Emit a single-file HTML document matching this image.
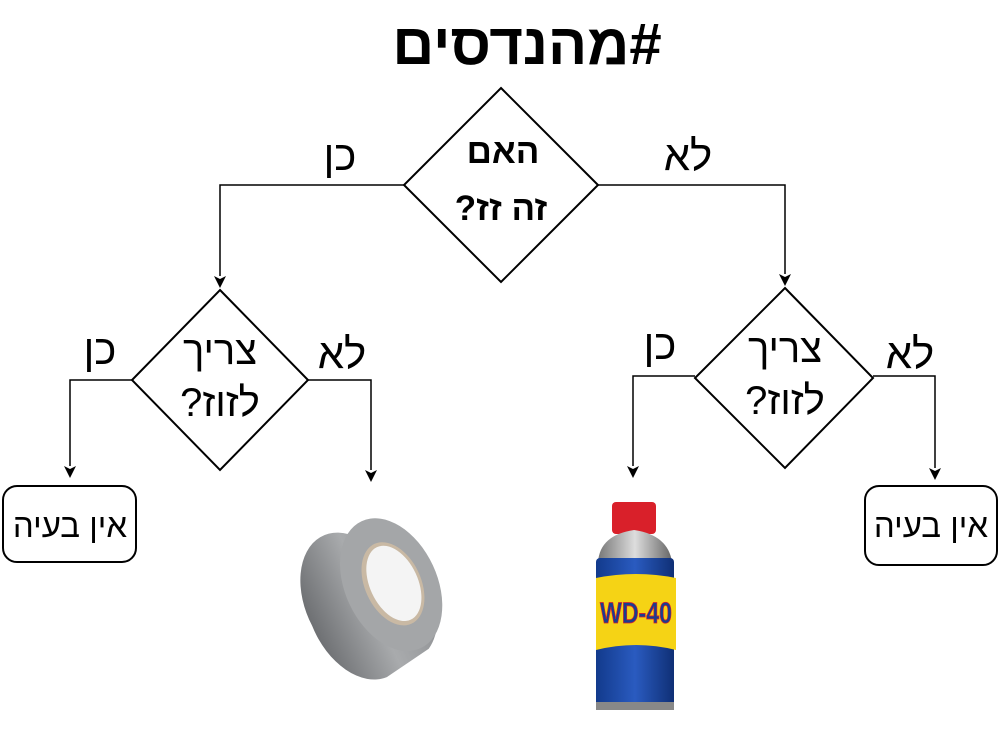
<!DOCTYPE html>
<html><head><meta charset="utf-8"><style>
body{margin:0;background:#fff;width:1000px;height:724px;overflow:hidden;font-family:"Liberation Sans","DejaVu Sans",sans-serif}
</style></head><body>
<svg width="1000" height="724" xmlns="http://www.w3.org/2000/svg" font-family="Liberation Sans, DejaVu Sans, sans-serif">
<defs>
<linearGradient id="tp" x1="0" x2="1"><stop offset="0" stop-color="#6e7073"/><stop offset=".5" stop-color="#a9abad"/><stop offset="1" stop-color="#8b8d90"/></linearGradient>
<linearGradient id="cn" x1="0" x2="1"><stop offset="0" stop-color="#123a8c"/><stop offset=".5" stop-color="#2a5bc0"/><stop offset="1" stop-color="#0f2f75"/></linearGradient>
<linearGradient id="sv" x1="0" x2="1"><stop offset="0" stop-color="#777"/><stop offset=".5" stop-color="#ddd"/><stop offset="1" stop-color="#666"/></linearGradient>
</defs>
<text x="527" y="64" font-size="58" font-weight="bold" text-anchor="middle" direction="rtl">#מהנדסים</text>
<g fill="#fff" stroke="#000" stroke-width="2">
<polygon points="501,88 598,185 501,282 404,185"/>
<polygon points="220,290 308,380 220,470 132,380"/>
<polygon points="785,288 873,378 785,468 695,378"/>
<rect x="3" y="486" width="133" height="76" rx="14"/>
<rect x="865" y="486" width="132" height="79" rx="14"/>
</g>
<g fill="none" stroke="#000" stroke-width="1.5">
<polyline points="404,185 220,185 220,276"/>
<polyline points="598,185 785,185 785,274"/>
<polyline points="132,380 70,380 70,466"/>
<polyline points="308,380 371,380 371,470"/>
<polyline points="695,376 633,376 633,466"/>
<polyline points="873,376 935,376 935,468"/>
</g>
<g fill="#000">
<path d="M214,276 L220,288 L226,276 L220,279Z"/>
<path d="M779,274 L785,286 L791,274 L785,277Z"/>
<path d="M64,466 L70,478 L76,466 L70,469Z"/>
<path d="M365,470 L371,482 L377,470 L371,473Z"/>
<path d="M627,466 L633,478 L639,466 L633,469Z"/>
<path d="M929,468 L935,480 L941,468 L935,471Z"/>
</g>
<g text-anchor="middle" direction="rtl">
<text x="503" y="163" font-size="35" font-weight="bold">האם</text>
<text x="501" y="220" font-size="35" font-weight="bold">זה זז?</text>
<text x="220" y="364" font-size="40">צריך</text>
<text x="220" y="416" font-size="40">לזוז?</text>
<text x="785" y="362" font-size="40">צריך</text>
<text x="785" y="414" font-size="40">לזוז?</text>
<text x="70" y="537" font-size="33">אין בעיה</text>
<text x="931" y="537" font-size="33">אין בעיה</text>
<text x="340" y="170" font-size="42">כן</text>
<text x="688" y="170" font-size="42">לא</text>
<text x="100" y="364" font-size="42">כן</text>
<text x="342" y="368" font-size="42">לא</text>
<text x="660" y="359" font-size="42">כן</text>
<text x="910" y="368" font-size="42">לא</text>
</g>
<!-- duct tape -->
<g transform="rotate(-25 372 598)">
<path d="M306,598 a48,72 0 0 1 96,-10 l30,0 a48,72 0 0 1 -30,80 l-50,8 a48,72 0 0 1 -46,-78Z" fill="url(#tp)"/>
<ellipse cx="395" cy="594" rx="46" ry="70" fill="#a4a6a8"/>
<ellipse cx="397" cy="594" rx="28" ry="44" fill="#c9b9a4"/>
<ellipse cx="398" cy="594" rx="24" ry="40" fill="#f4f4f4"/>
</g>
<!-- WD-40 -->
<rect x="612" y="502" width="44" height="32" rx="4" fill="#d9202a"/>
<path d="M598,562 Q600,535 634,530 Q668,535 672,562Z" fill="url(#sv)"/>
<rect x="596" y="558" width="78" height="150" rx="4" fill="url(#cn)"/>
<path d="M596,578 Q636,570 676,578 L676,650 Q636,640 596,650Z" fill="#f5d315"/>
<text x="636" y="623" font-size="30" font-weight="bold" fill="#1a3d8f" text-anchor="middle" textLength="72" lengthAdjust="spacingAndGlyphs" stroke="#d9202a" stroke-width="0.8">WD-40</text>
<rect x="596" y="702" width="78" height="8" fill="#888"/>
</svg>
</body></html>
